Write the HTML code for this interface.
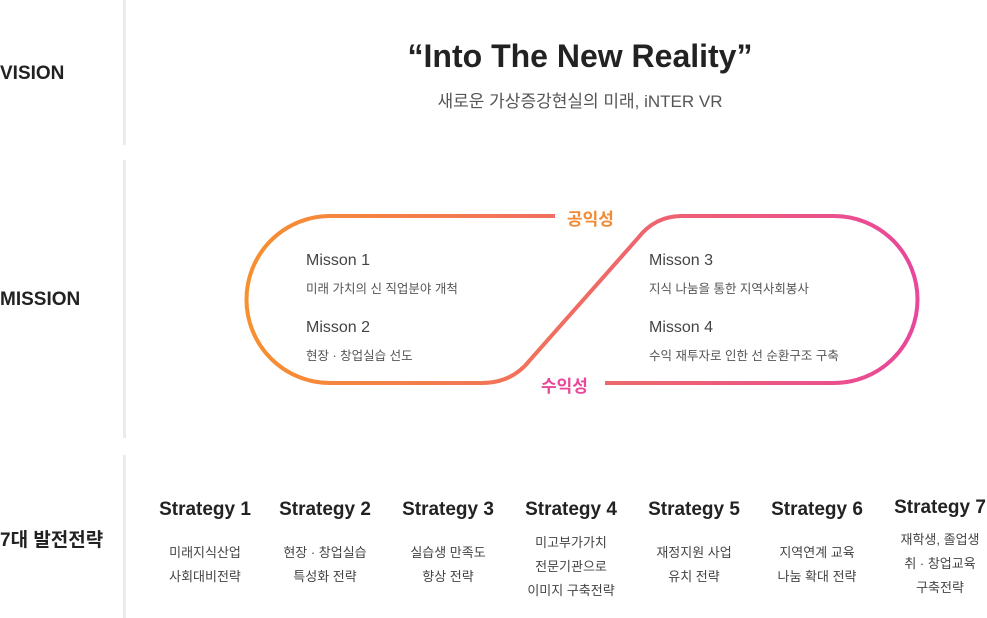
<!DOCTYPE html><html><head><meta charset="utf-8"><style>
body{margin:0;width:987px;height:618px;background:#fff;position:relative;overflow:hidden;font-family:"Liberation Sans","Noto Sans CJK KR",sans-serif;color:#333}
.a{position:absolute}
.vl{position:absolute;left:123px;width:3px;background:#ebebeb}
.lab{position:absolute;left:0;font-weight:bold;font-size:19px;color:#222}
.st{position:absolute;width:120px;text-align:center;transform:translateX(-60px)}
.st b{display:block;font-size:19px;color:#222;height:42px}
.st span{display:block;font-size:13px;line-height:24px;color:#444}
.m{position:absolute;font-size:16px;color:#444}
.ms{position:absolute;font-size:12.5px;color:#555}
</style></head><body>
<div class="vl" style="top:0;height:145px"></div>
<div class="vl" style="top:160px;height:278px"></div>
<div class="vl" style="top:455px;height:163px"></div>
<div class="lab" style="top:63px">VISION</div>
<div class="lab" style="top:289px">MISSION</div>
<div class="lab" style="top:525px">7대 발전전략</div>
<div class="a" style="left:380px;width:400px;text-align:center;top:38px;font-size:32px;font-weight:bold;color:#222">“Into The New Reality”</div>
<div class="a" style="left:380px;width:400px;text-align:center;top:87px;font-size:17px;color:#555">새로운 가상증강현실의 미래, iNTER VR</div>
<svg class="a" style="left:0;top:0" width="987" height="618"><defs><linearGradient id="g" x1="246" x2="917" y1="0" y2="0" gradientUnits="userSpaceOnUse"><stop offset="0" stop-color="#f7902f"/><stop offset="1" stop-color="#e8479a"/></linearGradient></defs>
<path d="M555 216 H330 A83.5 83.5 0 0 0 330 383 H482 Q512 383 530 360 L638 238 Q655 216 682 216 H834 A83.5 83.5 0 0 1 834 383 H605" fill="none" stroke="url(#g)" stroke-width="4"/></svg>
<div class="a" style="left:567px;top:205px;font-size:17px;font-weight:bold;color:#f28a33">공익성</div>
<div class="a" style="left:541px;top:372px;font-size:17px;font-weight:bold;color:#e8479a">수익성</div>
<div class="m" style="left:306px;top:252px">Misson 1</div>
<div class="ms" style="left:306px;top:278px">미래 가치의 신 직업분야 개척</div>
<div class="m" style="left:306px;top:319px">Misson 2</div>
<div class="ms" style="left:306px;top:345px">현장 · 창업실습 선도</div>
<div class="m" style="left:649px;top:252px">Misson 3</div>
<div class="ms" style="left:649px;top:278px">지식 나눔을 통한 지역사회봉사</div>
<div class="m" style="left:649px;top:319px">Misson 4</div>
<div class="ms" style="left:649px;top:345px">수익 재투자로 인한 선 순환구조 구축</div>
<div class="st" style="left:205px;top:499px"><b>Strategy 1</b><span>미래지식산업</span><span>사회대비전략</span></div>
<div class="st" style="left:325px;top:499px"><b>Strategy 2</b><span>현장 · 창업실습</span><span>특성화 전략</span></div>
<div class="st" style="left:448px;top:499px"><b>Strategy 3</b><span>실습생 만족도</span><span>향상 전략</span></div>
<div class="st" style="left:571px;top:499px"><b style="height:32px">Strategy 4</b><span>미고부가가치</span><span>전문기관으로</span><span>이미지 구축전략</span></div>
<div class="st" style="left:694px;top:499px"><b>Strategy 5</b><span>재정지원 사업</span><span>유치 전략</span></div>
<div class="st" style="left:817px;top:499px"><b>Strategy 6</b><span>지역연계 교육</span><span>나눔 확대 전략</span></div>
<div class="st" style="left:940px;top:497px"><b style="height:31px">Strategy 7</b><span>재학생, 졸업생</span><span>취 · 창업교육</span><span>구축전략</span></div>
</body></html>
